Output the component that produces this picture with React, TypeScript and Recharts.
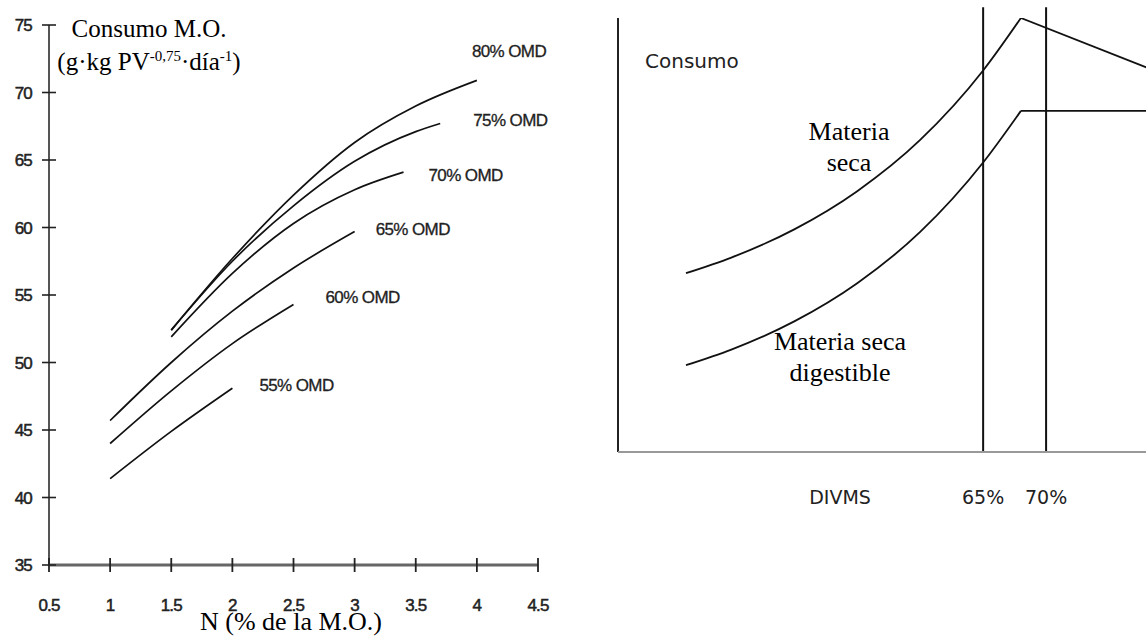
import { LineChart, Line, XAxis, YAxis, ReferenceLine, LabelList } from "recharts";

// Consumo M.O. vs N (% de la M.O.) for each OMD level
const N_TICKS = [0.5, 1, 1.5, 2, 2.5, 3, 3.5, 4, 4.5];
const CONSUMO_TICKS = [35, 40, 45, 50, 55, 60, 65, 70, 75];

const N_80 = [1.5, 2, 2.5, 3, 3.5, 4];
const OMD_80 = [52.4, 57.7, 62.4, 66.3, 69.0, 70.9];
const N_75 = [1.5, 2, 2.5, 3, 3.5, 3.7];
const OMD_75 = [52.4, 57.5, 61.6, 64.9, 67.1, 67.7];
const N_70 = [1.5, 2, 2.5, 3, 3.4];
const OMD_70 = [51.9, 56.6, 60.3, 62.8, 64.1];
const N_65 = [1, 1.5, 2, 2.5, 3];
const OMD_65 = [45.7, 50.0, 53.8, 57.0, 59.7];
const N_60 = [1, 1.5, 2, 2.5];
const OMD_60 = [44.0, 47.9, 51.4, 54.3];
const N_55 = [1, 1.5, 2];
const OMD_55 = [41.4, 44.9, 48.1];

// schematic intake vs DIVMS
const DIVMS_RISE = [41.4, 45, 50, 55, 60, 65, 68];
const MS_RISE = [41.2, 44.8, 51.3, 60.1, 71.9, 87.9, 100];
const MSD_RISE = [20.0, 23.6, 30.1, 38.9, 50.7, 66.7, 78.6];
const DIVMS_AFTER = [68, 80];
const MS_AFTER = [100, 86.3];
const MSD_AFTER = [78.6, 78.6];
const DIVMS_MARKS = [65, 70];

const toPoints = (xs: number[], ys: number[]) => xs.map((x, i) => ({ x, y: ys[i] }));

const OMD_SERIES = [
  { name: "80% OMD", n: N_80, y: OMD_80, dx: -5, dy: -29 },
  { name: "75% OMD", n: N_75, y: OMD_75, dx: 33, dy: -3 },
  { name: "70% OMD", n: N_70, y: OMD_70, dx: 25, dy: 3 },
  { name: "65% OMD", n: N_65, y: OMD_65, dx: 21, dy: -2 },
  { name: "60% OMD", n: N_60, y: OMD_60, dx: 32, dy: -7 },
  { name: "55% OMD", n: N_55, y: OMD_55, dx: 27, dy: -3 },
];

const SANS = "'Liberation Sans', Arial, sans-serif";
const SERIF = "'Liberation Serif', 'Times New Roman', serif";
const DEJAVU = "'DejaVu Sans', sans-serif";

const LeftTick = ({ x, y, payload }: any) => (
  <g>
    <line x1={x - 7} x2={x + 7} y1={y} y2={y} stroke="#222" strokeWidth={1.6} />
    <text
      x={x - 17}
      y={y + 6}
      textAnchor="end"
      fontFamily={SANS}
      fontSize={17}
      letterSpacing={-0.8}
      fill="#222"
      stroke="#222"
      strokeWidth={0.5}
    >
      {payload.value}
    </text>
  </g>
);

const BottomTick = ({ x, y, payload }: any) => (
  <g>
    <line x1={x} x2={x} y1={y - 7} y2={y + 7} stroke="#222" strokeWidth={1.8} />
    <text
      x={x}
      y={y + 46}
      textAnchor="middle"
      fontFamily={SANS}
      fontSize={17}
      letterSpacing={-0.8}
      fill="#222"
      stroke="#222"
      strokeWidth={0.5}
    >
      {payload.value}
    </text>
  </g>
);

const DivmsTick = ({ x, y, payload }: any) => (
  <text x={x} y={y + 52} textAnchor="middle" fontFamily={DEJAVU} fontSize={19} fill="#222">
    {payload.value}%
  </text>
);

const serifText = (size: number): React.CSSProperties => ({
  position: "absolute",
  fontFamily: SERIF,
  fontSize: size,
  color: "#000",
  whiteSpace: "nowrap",
  textAlign: "center",
  transform: "translateX(-50%)",
});

const sup: React.CSSProperties = { fontSize: 15, verticalAlign: 9, lineHeight: 0 };

export default function App() {
  return (
    <div
      style={{
        position: "absolute",
        left: 0,
        top: 0,
        width: 1146,
        height: 637,
        overflow: "hidden",
        background: "#fff",
      }}
    >
      <div style={{ position: "absolute", left: 0, top: 0 }}>
        <LineChart width={560} height={637} margin={{ top: 25, right: 22, bottom: 0, left: 0 }}>
          <XAxis
            type="number"
            dataKey="x"
            domain={[0.5, 4.5]}
            ticks={N_TICKS}
            interval={0}
            height={72}
            tickSize={0}
            tickMargin={0}
            tick={<BottomTick />}
            axisLine={{ stroke: "#666", strokeWidth: 3 }}
            allowDataOverflow
          />
          <YAxis
            type="number"
            domain={[35, 75]}
            ticks={CONSUMO_TICKS}
            interval={0}
            width={49}
            tickSize={0}
            tickMargin={0}
            tick={<LeftTick />}
            axisLine={{ stroke: "#555", strokeWidth: 2 }}
            allowDataOverflow
          />
          {OMD_SERIES.map((s) => (
            <Line
              key={s.name}
              data={toPoints(s.n, s.y)}
              dataKey="y"
              type="monotone"
              stroke="#111"
              strokeWidth={1.7}
              dot={false}
              isAnimationActive={false}
            >
              <LabelList
                dataKey="y"
                content={(p: any) =>
                  p.index === s.n.length - 1 ? (
                    <text
                      x={p.x + s.dx}
                      y={p.y + s.dy}
                      dominantBaseline="central"
                      fontFamily={SANS}
                      fontSize={17}
                      letterSpacing={-0.6}
                      fill="#222"
                      stroke="#222"
                      strokeWidth={0.3}
                    >
                      {s.name}
                    </text>
                  ) : null
                }
              />
            </Line>
          ))}
        </LineChart>
      </div>

      <div style={{ ...serifText(25), left: 149, top: 12, lineHeight: "33px" }}>
        Consumo M.O.
        <br />
        (g·kg PV<span style={sup}>-0,75</span>·día<span style={sup}>-1</span>)
      </div>
      <div style={{ ...serifText(26), left: 291, top: 609, lineHeight: "26px" }}>
        N (% de la M.O.)
      </div>

      <div style={{ position: "absolute", left: 560, top: 0 }}>
        <LineChart width={640} height={637} margin={{ top: 18, right: 28, bottom: 0, left: 58 }}>
          <XAxis
            type="number"
            dataKey="x"
            domain={[36, 80]}
            ticks={DIVMS_MARKS}
            interval={0}
            height={185}
            tickSize={0}
            tickMargin={0}
            tick={<DivmsTick />}
            axisLine={{ stroke: "#999", strokeWidth: 2 }}
            allowDataOverflow
          />
          <YAxis type="number" domain={[0, 100]} hide allowDataOverflow />
          {/* vertical axis of the schematic */}
          <ReferenceLine x={36} ifOverflow="visible" stroke="#222" strokeWidth={2} />
          {DIVMS_MARKS.map((m) => (
            <ReferenceLine
              key={m}
              segment={[
                { x: m, y: 0 },
                { x: m, y: 102.5 },
              ]}
              ifOverflow="visible"
              stroke="#111"
              strokeWidth={2}
            />
          ))}
          <Line data={toPoints(DIVMS_RISE, MS_RISE)} dataKey="y" type="monotone" stroke="#111" strokeWidth={1.8} dot={false} isAnimationActive={false} />
          <Line data={toPoints(DIVMS_AFTER, MS_AFTER)} dataKey="y" type="linear" stroke="#111" strokeWidth={1.8} dot={false} isAnimationActive={false} />
          <Line data={toPoints(DIVMS_RISE, MSD_RISE)} dataKey="y" type="monotone" stroke="#111" strokeWidth={1.8} dot={false} isAnimationActive={false} />
          <Line data={toPoints(DIVMS_AFTER, MSD_AFTER)} dataKey="y" type="linear" stroke="#111" strokeWidth={1.8} dot={false} isAnimationActive={false} />
        </LineChart>
      </div>

      <div style={{ position: "absolute", left: 645, top: 51, fontFamily: DEJAVU, fontSize: 20, lineHeight: "20px", color: "#222" }}>
        Consumo
      </div>
      <div style={{ ...serifText(26), left: 849, top: 116, lineHeight: "31px" }}>
        Materia
        <br />
        seca
      </div>
      <div style={{ ...serifText(26), left: 840, top: 326, lineHeight: "31px" }}>
        Materia seca
        <br />
        digestible
      </div>
      <div style={{ position: "absolute", left: 840, top: 487, transform: "translateX(-50%)", fontFamily: DEJAVU, fontSize: 19, lineHeight: "20px", color: "#222" }}>
        DIVMS
      </div>
    </div>
  );
}
